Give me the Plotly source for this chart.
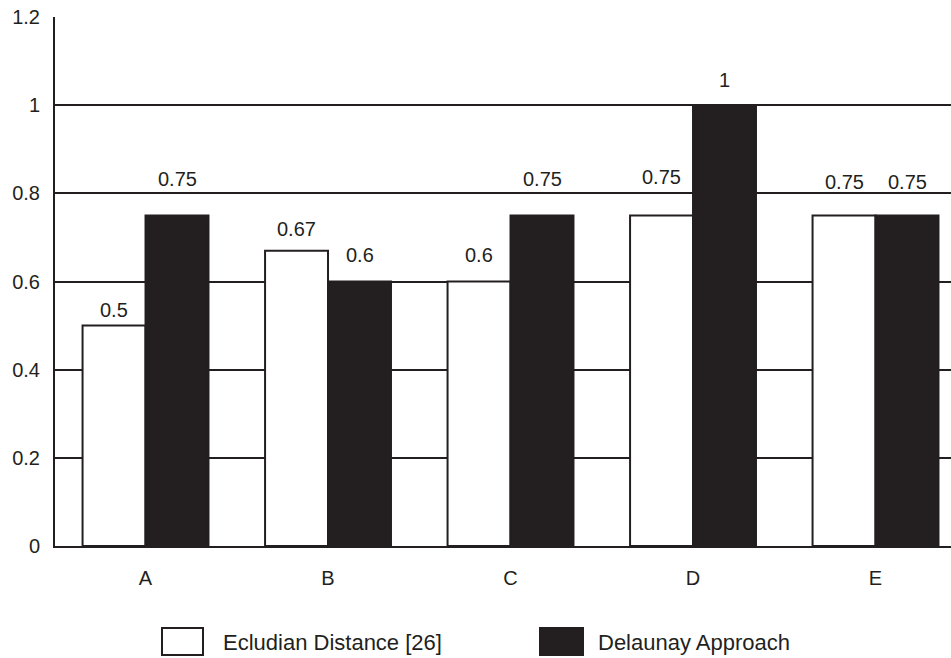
import plotly.graph_objects as go

# Data
categories = ["A", "B", "C", "D", "E"]
euclid = [0.5, 0.67, 0.6, 0.75, 0.75]
delaunay = [0.75, 0.6, 0.75, 1.0, 0.75]
series_names = ["Ecludian Distance [26]", "Delaunay Approach"]
y_ticks = [0, 0.2, 0.4, 0.6, 0.8, 1.0, 1.2]

# Styling
INK = "#231f20"
FONT = "Liberation Sans, Arial, Helvetica, sans-serif"
W, H = 951, 658
M_L, M_T, M_B, M_R = 55, 17, 112, 0
BAR_W = 0.345
# pixel gap between each bar top and its value label
lift_euclid = [8, 14, 19, 30, 25]
lift_delaunay = [28, 19, 28, 17, 25]

x_idx = list(range(len(categories)))

fig = go.Figure()
fig.add_trace(go.Bar(
    x=[i - BAR_W / 2 for i in x_idx], y=euclid, width=BAR_W,
    name=series_names[0], marker=dict(color="white", line=dict(color=INK, width=2)),
    showlegend=False,
))
fig.add_trace(go.Bar(
    x=[i + BAR_W / 2 for i in x_idx], y=delaunay, width=BAR_W,
    name=series_names[1], marker=dict(color=INK, line=dict(color=INK, width=2)),
    showlegend=False,
))

# value labels above bars
def fmt(v):
    return ("%g" % v)

for i, (v, lift) in enumerate(zip(euclid, lift_euclid)):
    fig.add_annotation(x=i - BAR_W / 2, y=v, text=fmt(v), showarrow=False,
                       xanchor="center", yanchor="bottom", yshift=lift - 5,
                       font=dict(family=FONT, size=20, color=INK))
for i, (v, lift) in enumerate(zip(delaunay, lift_delaunay)):
    fig.add_annotation(x=i + BAR_W / 2, y=v, text=fmt(v), showarrow=False,
                       xanchor="center", yanchor="bottom", yshift=lift - 5,
                       font=dict(family=FONT, size=20, color=INK))

# legend drawn below the plot
plot_w = W - M_L - M_R
plot_h = H - M_T - M_B
def px_x(p):
    return (p - M_L) / plot_w
def px_y(p):
    return (H - M_B - p) / plot_h

legend_items = [
    (162, 203, 221, "white", series_names[0]),
    (540, 583, 596, INK, series_names[1]),
]
for x0, x1, tx, fill, label in legend_items:
    fig.add_shape(type="rect", xref="paper", yref="paper",
                  x0=px_x(x0), x1=px_x(x1), y0=px_y(655), y1=px_y(628),
                  fillcolor=fill, line=dict(color=INK, width=2))
    fig.add_annotation(xref="paper", yref="paper", x=px_x(tx), y=px_y(642),
                       text=label, showarrow=False, xanchor="left", yanchor="middle",
                       font=dict(family=FONT, size=22, color=INK))

fig.update_layout(
    width=W, height=H,
    margin=dict(l=M_L, r=M_R, t=M_T, b=M_B, pad=0),
    plot_bgcolor="white", paper_bgcolor="white",
    barmode="overlay",
    font=dict(family=FONT, size=20, color=INK),
    showlegend=False,
)
fig.update_xaxes(
    range=[-0.496, -0.496 + plot_w / 182.5],
    tickmode="array", tickvals=x_idx, ticktext=categories,
    showgrid=False, zeroline=False,
    showline=True, linecolor=INK, linewidth=2,
    ticks="", ticklabelstandoff=13,
    tickfont=dict(family=FONT, size=20, color=INK),
)
fig.update_yaxes(
    range=[0, 1.2], tickmode="array", tickvals=y_ticks,
    ticktext=[fmt(t) for t in y_ticks],
    showgrid=True, gridcolor=INK, gridwidth=2,
    zeroline=False, showline=True, linecolor=INK, linewidth=2,
    ticks="", ticklabelstandoff=9,
    tickfont=dict(family=FONT, size=20, color=INK),
)

fig.write_html("out.html")
